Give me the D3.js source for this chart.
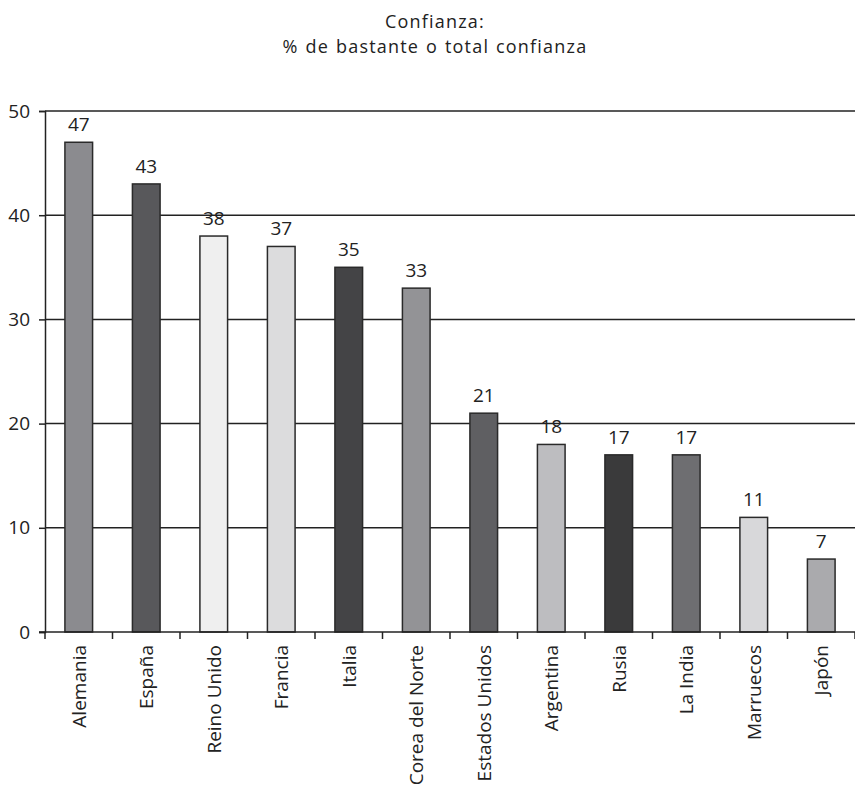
<!DOCTYPE html>
<html><head><meta charset="utf-8">
<script src="https://cdn.jsdelivr.net/npm/d3@7"></script>
<style>body{margin:0;background:#fff}svg{display:block}</style>
</head><body>
<script>
const titleLines = ["Confianza:", "% de bastante o total confianza"];
const categories = ["Alemania","España","Reino Unido","Francia","Italia","Corea del Norte","Estados Unidos","Argentina","Rusia","La India","Marruecos","Japón"];
const values = [47,43,38,37,35,33,21,18,17,17,11,7];
const colors = ["#8b8b8f","#58585b","#efefef","#dcdcdd","#444446","#939396","#5f5f62","#bdbdc0","#3a3a3b","#6e6e71","#d8d8da","#aaaaad"];
const yTicks = [0,10,20,30,40,50];

const W = 855, H = 787;
const m = {left:45, right:0, top:111, bottom:155};
const svg = d3.select("body").append("svg").attr("width",W).attr("height",H);
const font = "'Open Sans', sans-serif";
const fs = 19;

const x = d3.scaleBand().domain(categories).range([m.left, W - m.right]).paddingInner(0.59).paddingOuter(0.295);
const y = d3.scaleLinear().domain([0,50]).range([H - m.bottom, m.top]);

// title
svg.selectAll("text.title").data(titleLines).enter().append("text")
  .attr("x", 435).attr("y", (d,i)=>28 + i*25)
  .attr("text-anchor","middle").attr("font-family",font).attr("font-size",18)
  .attr("letter-spacing",1.2).attr("word-spacing",1).attr("fill","#222")
  .text(d=>d);

// gridlines
svg.selectAll("line.grid").data(yTicks.filter(d=>d>0)).enter().append("line")
  .attr("x1", m.left).attr("x2", W).attr("y1", d=>y(d)).attr("y2", d=>y(d))
  .attr("stroke","#222").attr("stroke-width",1.5);

// y axis
const yAxis = svg.append("g").attr("transform",`translate(${m.left},0)`)
  .call(d3.axisLeft(y).tickValues(yTicks).tickSize(6).tickPadding(9));
yAxis.select(".domain").attr("stroke","#222").attr("stroke-width",1.5);
yAxis.selectAll(".tick line").attr("stroke","#222").attr("stroke-width",1.5);
yAxis.selectAll("text").attr("font-family",font).attr("font-size",fs).attr("fill","#222");

// bars
svg.selectAll("rect.bar").data(categories).enter().append("rect")
  .attr("x", d=>x(d)).attr("width", x.bandwidth())
  .attr("y", (d,i)=>y(values[i])).attr("height",(d,i)=>y(0)-y(values[i]))
  .attr("fill",(d,i)=>colors[i]).attr("stroke","#2a2a2a").attr("stroke-width",1.5);

// value labels
svg.selectAll("text.val").data(categories).enter().append("text")
  .attr("x", d=>x(d)+x.bandwidth()/2).attr("y",(d,i)=>y(values[i])-11)
  .attr("text-anchor","middle").attr("font-family",font).attr("font-size",fs).attr("fill","#222")
  .text((d,i)=>values[i]);

// x axis
const step = x.step();
const boundaries = d3.range(categories.length+1).map(i=>m.left + i*step);
svg.append("line").attr("x1", m.left-6).attr("x2", W).attr("y1", y(0)).attr("y2", y(0))
  .attr("stroke","#222").attr("stroke-width",1.5);
svg.selectAll("line.xt").data(boundaries).enter().append("line")
  .attr("x1",d=>d).attr("x2",d=>d).attr("y1",y(0)).attr("y2",y(0)+7)
  .attr("stroke","#222").attr("stroke-width",1.5);
svg.selectAll("text.cat").data(categories).enter().append("text")
  .attr("transform", d=>`translate(${x(d)+x.bandwidth()/2+7},${y(0)+13}) rotate(-90)`)
  .attr("text-anchor","end").attr("font-family",font).attr("font-size",fs).attr("fill","#222")
  .text(d=>d);
</script>
</body></html>
